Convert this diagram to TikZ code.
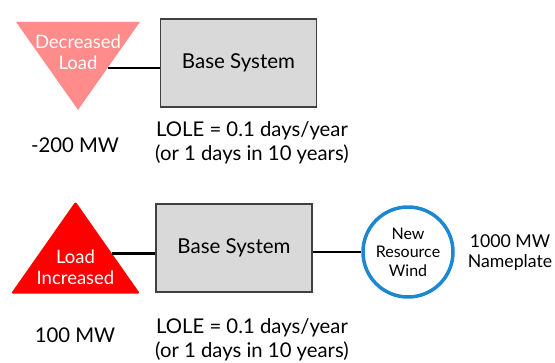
\documentclass[tikz,border=0pt]{standalone}
\usepackage{fontspec}
\setmainfont{Lato}
\usepackage{tikz}
\usetikzlibrary{shapes.geometric,positioning,calc}
\usepackage{xcolor}
\definecolor{loadpink}{HTML}{FF8B8B}
\definecolor{loadred}{HTML}{FF0000}
\definecolor{sysgray}{HTML}{D9D9D9}
\definecolor{sysedge}{HTML}{404040}
\definecolor{windblue}{HTML}{1C88D2}

\begin{document}
\begin{tikzpicture}[x=1pt, y=1pt,
  sysbox/.style={draw=sysedge, fill=sysgray, rectangle, line width=1.2pt,
                 minimum width=156pt, minimum height=88pt, font=\fontsize{20.5}{24}\selectfont},
  loadtri/.style={isosceles triangle, isosceles triangle stretches, draw=none,
                  inner sep=0pt},
  tritext/.style={text=white, align=center, font=\fontsize{18.5}{21}\selectfont},
  windnode/.style={circle, draw=windblue, fill=white, line width=3.5pt, minimum size=90pt},
  windtext/.style={align=center, inner sep=0pt, font=\fontsize{16}{18.5}\selectfont},
  note/.style={align=center, font=\fontsize{20.3}{24}\selectfont},
  link/.style={line width=2.6pt}
]
  \useasboundingbox (0,0) rectangle (555,-362);

  %% Upper case: load decrease
  \node[loadtri, fill=loadpink, shape border rotate=270,
        minimum height=88pt, minimum width=124pt] (declo) at (78,-54) {};
  \node[tritext] (declotxt) at (78,-52) {Decreased\\Load};
  \node[sysbox] (basetop) at (238.5,-63) {Base System};
  \node[note] (mwtop) at (75,-145) {-200 MW};
  \node[note] (loletop) at (252,-143) {LOLE = 0.1 days/year\\(or 1 days in 10 years)};

  %% Lower case: load increase plus wind
  \node[loadtri, fill=loadred, shape border rotate=90, rounded corners=2pt,
        minimum height=92pt, minimum width=129pt] (inclo) at (75.5,-260) {};
  \node[tritext] (inclotxt) at (75.5,-267.5) {Load\\Increased};
  \node[sysbox] (basebot) at (234,-248) {Base System};
  \node[windnode] (windres) at (408,-252) {};
  \node[windtext] (windtxt) at (windres) {New\\Resource\\Wind};
  \node[note, font=\fontsize{17.7}{20}\selectfont] (plate) at (510,-253)
    {1000 MW\\Nameplate};
  \node[note] (mwbot) at (75,-335) {100 MW};
  \node[note] (lolebot) at (252,-340) {LOLE = 0.1 days/year\\(or 1 days in 10 years)};

  %% Links
  \coordinate (decedge) at ($(declo.apex)!0.477!(declo.left corner)$);
  \coordinate (incedge) at ($(inclo.apex)!0.565!(inclo.right corner)$);
  \draw[link] (decedge) -- (decedge -| basetop.west);
  \draw[link] (incedge) -- (incedge -| basebot.west);
  \draw[link] (basebot.east |- windres) -- (windres.west);

\end{tikzpicture}
\end{document}
